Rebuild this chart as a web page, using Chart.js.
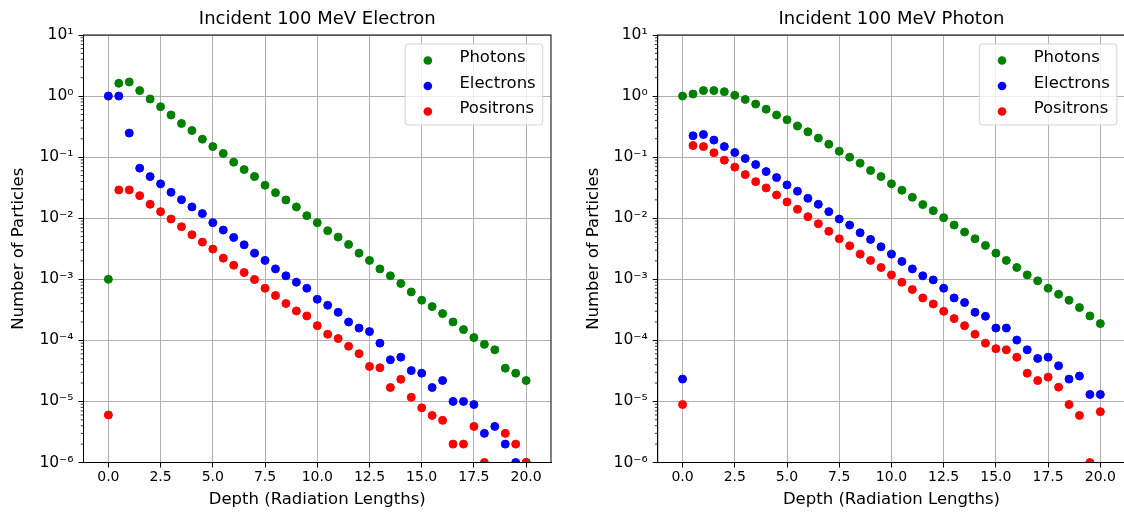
<!DOCTYPE html>
<html>
<head>
<meta charset="utf-8">
<script src="https://cdn.jsdelivr.net/npm/chart.js@4.4.0/dist/chart.umd.min.js"></script>
<style>
    html, body { margin: 0; padding: 0; background: #fff; overflow: hidden; }
    #wrap { position: relative; width: 1124px; height: 513px; overflow: hidden; }
    canvas { position: absolute; top: 0; }
    #electronChart { left: 0; }
    #photonChart { left: 562px; }
</style>
</head>
<body>
<div id="wrap">
    <canvas id="electronChart" width="562" height="513"></canvas>
    <canvas id="photonChart" width="570" height="513"></canvas>
</div>
<script>
const depths = [0, 0.5, 1, 1.5, 2, 2.5, 3, 3.5, 4, 4.5, 5, 5.5, 6, 6.5, 7, 7.5, 8, 8.5, 9, 9.5, 10,
    10.5, 11, 11.5, 12, 12.5, 13, 13.5, 14, 14.5, 15, 15.5, 16, 16.5, 17, 17.5, 18, 18.5, 19, 19.5, 20];

const xTicks = [0, 2.5, 5, 7.5, 10, 12.5, 15, 17.5, 20];
const yTicks = [1e-6, 1e-5, 1e-4, 1e-3, 1e-2, 1e-1, 1, 10];

// incident 100 MeV electron
const electronRunPhotons = [1.0e-3, 1.62, 1.70, 1.23, 0.895, 0.67, 0.49, 0.356, 0.273, 0.197, 0.149,
    0.115, 0.0828, 0.0626, 0.0481, 0.0347, 0.0262, 0.0199, 0.0153, 0.011, 0.00844,
    0.00624, 0.00491, 0.00372, 0.00268, 0.00204, 0.00148, 0.00114, 0.000853, 0.000621, 0.000454,
    0.000357, 0.000274, 0.0002, 0.00015, 0.000111, 8.6e-5, 7.0e-5, 3.5e-5, 2.9e-5, 2.2e-5];
const electronRunElectrons = [1.0, 1.0, 0.248, 0.066, 0.048, 0.0365, 0.0266, 0.0201, 0.0153, 0.0119, 0.00844,
    0.0064, 0.00485, 0.00367, 0.00268, 0.00204, 0.00148, 0.00114, 0.000895, 0.000714, 0.000471,
    0.000376, 0.000288, 0.0002, 0.000159, 0.000139, 9.0e-5, 4.8e-5, 5.3e-5, 3.2e-5, 2.9e-5,
    1.69e-5, 2.2e-5, 1.0e-5, 1.0e-5, 8.9e-6, 3.0e-6, 3.9e-6, 2.0e-6, 1.0e-6, 1.0e-6];
const electronRunPositrons = [6e-6, 0.029, 0.029, 0.0234, 0.0169, 0.0128, 0.0097, 0.00725, 0.00536, 0.00406, 0.00312,
    0.00222, 0.0017, 0.00129, 0.000993, 0.000714, 0.000542, 0.000401, 0.000303, 0.000251, 0.000174,
    0.000126, 0.000107, 8.0e-5, 6.05e-5, 3.74e-5, 3.56e-5, 1.69e-5, 2.3e-5, 1.17e-5, 7.85e-6,
    5.9e-6, 4.9e-6, 2.0e-6, 2.0e-6, 3.9e-6, 1.0e-6, null, 3.0e-6, 2.0e-6, 1.0e-6];

// incident 100 MeV photon
const photonRunPhotons = [1.0, 1.08, 1.23, 1.23, 1.18, 1.03, 0.88, 0.74, 0.61, 0.49, 0.41,
    0.323, 0.26, 0.205, 0.163, 0.125, 0.1, 0.0797, 0.0603, 0.0481, 0.0365,
    0.0287, 0.022, 0.0167, 0.0133, 0.0102, 0.00773, 0.00593, 0.0046, 0.00359, 0.00268,
    0.00204, 0.00156, 0.00118, 0.000942, 0.000714, 0.000569, 0.000454, 0.000344, 0.000251, 0.000188];
const photonRunElectrons = [2.32e-5, 0.224, 0.235, 0.19, 0.149, 0.119, 0.0949, 0.0757, 0.058, 0.0463, 0.0351,
    0.0277, 0.0212, 0.0169, 0.0128, 0.0097, 0.00773, 0.00578, 0.0045, 0.0034, 0.00258,
    0.00196, 0.00148, 0.00114, 0.000977, 0.000714, 0.000495, 0.000416, 0.000288, 0.000248, 0.000159,
    0.000159, 0.000101, 7.0e-5, 5.06e-5, 5.3e-5, 3.84e-5, 2.32e-5, 2.6e-5, 1.3e-5, 1.3e-5];
const photonRunPositrons = [8.9e-6, 0.155, 0.149, 0.118, 0.0893, 0.0686, 0.0518, 0.0397, 0.0313, 0.024, 0.0185,
    0.014, 0.0106, 0.00813, 0.0061, 0.0046, 0.00353, 0.00258, 0.00204, 0.00156, 0.00118,
    0.000895, 0.000679, 0.000495, 0.000394, 0.000299, 0.000227, 0.000174, 0.000126, 9.0e-5, 7.3e-5,
    7.0e-5, 5.3e-5, 2.9e-5, 2.2e-5, 2.5e-5, 1.71e-5, 8.9e-6, 5.9e-6, 1.0e-6, 6.8e-6];

Chart.defaults.font.family = "'DejaVu Sans', sans-serif";
Chart.defaults.color = "#000";

const superscripts = { "-": "\u207B", "0": "\u2070", "1": "\u00B9", "2": "\u00B2", "3": "\u00B3",
    "4": "\u2074", "5": "\u2075", "6": "\u2076", "7": "\u2077", "8": "\u2078", "9": "\u2079" };

const powerLabel = (value) => {
    const exp = String(Math.round(Math.log10(value)));
    return "10" + exp.split("").map((c) => superscripts[c]).join("");
};

const toPoints = (values) =>
    depths.map((d, i) => ({ x: d, y: values[i] })).filter((p) => p.y !== null);

// black box round the plot plus the small log ticks
const axesFrame = {
    id: "axesFrame",
    afterDraw(chart) {
        const { ctx, chartArea: a, scales } = chart;
        ctx.save();
        ctx.strokeStyle = "#000";
        ctx.lineWidth = 1;
        ctx.strokeRect(a.left, a.top, a.right - a.left, a.bottom - a.top);
        ctx.lineWidth = 0.8;
        ctx.beginPath();
        for (let e = -6; e < 1; e++) {
            for (let m = 2; m <= 9; m++) {
                const py = scales.y.getPixelForValue(m * Math.pow(10, e));
                ctx.moveTo(a.left - 2.8, py);
                ctx.lineTo(a.left, py);
            }
        }
        ctx.stroke();
        ctx.restore();
    },
};

// matplotlib style legend in the upper right corner
const legendBox = {
    id: "legendBox",
    afterDatasetsDraw(chart) {
        const { ctx, chartArea: a } = chart;
        const sets = chart.data.datasets;
        ctx.save();
        ctx.font = "16.5px 'DejaVu Sans'";
        const textW = Math.max(...sets.map((d) => ctx.measureText(d.label).width));
        const w = 54.3 + textW + 7;
        const h = 81;
        const x = a.right - 8.3 - w;
        const y = a.top + 9;
        ctx.beginPath();
        ctx.roundRect(x, y, w, h, 3);
        ctx.fillStyle = "rgba(255,255,255,0.8)";
        ctx.fill();
        ctx.strokeStyle = "#d4d4d4";
        ctx.lineWidth = 1;
        ctx.stroke();
        sets.forEach((d, i) => {
            const rowY = y + 14 + i * 25.5;
            ctx.beginPath();
            ctx.arc(x + 22.7, rowY + 2.5, 4.3, 0, Math.PI * 2);
            ctx.fillStyle = d.backgroundColor;
            ctx.fill();
            ctx.fillStyle = "#000";
            ctx.textBaseline = "middle";
            ctx.textAlign = "left";
            ctx.fillText(d.label, x + 54.3, rowY);
        });
        ctx.restore();
    },
};

const makeChart = (canvasId, title, photons, electrons, positrons, pad, yWidth) => {
    const dataset = (label, values, color, order) => ({
        label: label,
        data: toPoints(values),
        backgroundColor: color,
        borderColor: color,
        borderWidth: 1,
        pointRadius: 4,
        pointHoverRadius: 4,
        order: order,
    });

    return new Chart(document.getElementById(canvasId), {
        type: "scatter",
        data: {
            datasets: [
                dataset("Photons", photons, "green", 3),
                dataset("Electrons", electrons, "blue", 2),
                dataset("Positrons", positrons, "red", 1),
            ],
        },
        options: {
            responsive: false,
            animation: false,
            events: [],
            layout: { padding: { left: pad.left, right: pad.right, top: 0, bottom: 0 } },
            plugins: {
                legend: { display: false },
                tooltip: { enabled: false },
                title: {
                    display: true,
                    text: title,
                    fullSize: false,
                    font: { size: 18, weight: "normal" },
                    padding: { top: 8.9, bottom: 4.5 },
                    color: "#000",
                },
            },
            scales: {
                x: {
                    type: "linear",
                    min: -1.19,
                    max: 21.19,
                    afterBuildTicks: (s) => {
                        s.ticks = xTicks.map((v) => ({ value: v }));
                    },
                    afterFit: (s) => {
                        s.height = 50.5;
                    },
                    ticks: {
                        callback: (v) => Number(v).toFixed(1),
                        font: { size: 14 },
                        padding: 1,
                        maxRotation: 0,
                        autoSkip: false,
                        color: "#000",
                    },
                    grid: { color: "#b0b0b0", lineWidth: 1, tickLength: 5, tickColor: "#000", tickWidth: 1 },
                    border: { display: true, color: "#000", width: 1 },
                    title: {
                        display: true,
                        text: "Depth (Radiation Lengths)",
                        font: { size: 16.5 },
                        padding: { top: 0, bottom: 3.5 },
                        color: "#000",
                    },
                },
                y: {
                    type: "logarithmic",
                    min: 1e-6,
                    max: 10,
                    afterBuildTicks: (s) => {
                        s.ticks = yTicks.map((v) => ({ value: v }));
                    },
                    afterFit: (s) => {
                        s.width = yWidth;
                    },
                    ticks: {
                        callback: (v) => powerLabel(v),
                        font: { size: 15.5 },
                        padding: 5,
                        autoSkip: false,
                        color: "#000",
                    },
                    grid: { color: "#b0b0b0", lineWidth: 1, tickLength: 5, tickColor: "#000", tickWidth: 1 },
                    border: { display: true, color: "#000", width: 1 },
                    title: {
                        display: true,
                        text: "Number of Particles",
                        font: { size: 16.5 },
                        padding: { top: 8.6, bottom: 0 },
                        color: "#000",
                    },
                },
            },
        },
        plugins: [legendBox, axesFrame],
    });
};

const electronChart = makeChart("electronChart", "Incident 100 MeV Electron",
    electronRunPhotons, electronRunElectrons, electronRunPositrons, { left: 0, right: 11 }, 83.5);
const photonChart = makeChart("photonChart", "Incident 100 MeV Photon",
    photonRunPhotons, photonRunElectrons, photonRunPositrons, { left: 13, right: 6.8 }, 82.7);
</script>
</body>
</html>
